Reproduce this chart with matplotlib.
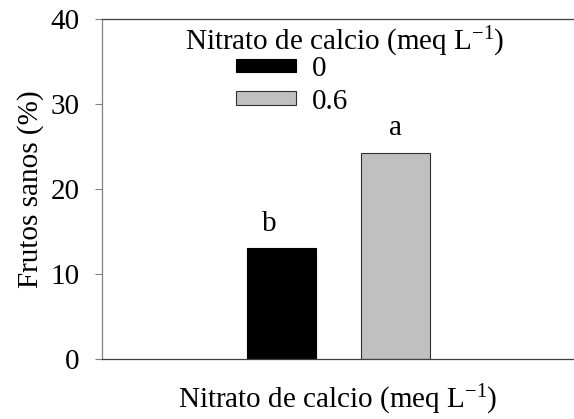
import matplotlib
matplotlib.use("Agg")
import matplotlib.pyplot as plt

plt.rcParams['font.family'] = ['Liberation Serif', 'DejaVu Serif']
plt.rcParams['mathtext.fontset'] = 'custom'
plt.rcParams['mathtext.rm'] = 'Liberation Serif'
plt.rcParams['mathtext.it'] = 'Liberation Serif:italic'

# datos
grupos = ['0', '0.6']
frutos_sanos = [13.0, 24.2]
letras = ['b', 'a']
colores = ['black', '#c0c0c0']
yticks = [0, 10, 20, 30, 40]

titulo = 'Nitrato de calcio (meq L$^{\\mathregular{-1}}$)'
fs = 21

fig = plt.figure(figsize=(5.74, 4.19), dpi=100)
ax = fig.add_axes([102 / 574, 60 / 419, 472 / 574, 340 / 419])

pos = list(range(len(grupos)))
barras = ax.bar(pos, frutos_sanos, width=0.605, color=colores,
                edgecolor=['black', '#303030'], linewidth=0.8)

for i, (v, l) in enumerate(zip(frutos_sanos, letras)):
    dx = -0.11 if i == 0 else 0
    ax.text(i + dx, v + 1.4, l, ha='center', va='bottom', fontsize=fs)

ax.set_xlim(-1.575, 2.566)
ax.set_ylim(0, 40)
ax.set_yticks(yticks)
ax.set_xticks([])
ax.tick_params(axis='y', direction='out', length=5, width=0.8, color='#808080',
               labelsize=fs, pad=11)

ax.spines['right'].set_visible(False)
ax.spines['left'].set_color('#808080')
ax.spines['top'].set_color('#404040')
ax.spines['bottom'].set_color('#404040')
for s in ax.spines.values():
    s.set_linewidth(0.9)

ax.set_ylabel('Frutos sanos (%)', fontsize=fs, labelpad=5)
ax.set_xlabel(titulo, fontsize=fs, labelpad=17)

# leyenda: titulo aparte, entradas desplazadas a la izquierda
ax.text(0.515, 0.932, titulo, transform=ax.transAxes, ha='center', va='center',
        fontsize=fs)
ax.legend(barras, grupos, frameon=False, fontsize=fs, loc='center left',
          bbox_to_anchor=(0.284, 0.805), borderpad=0, borderaxespad=0,
          handlelength=2.05, handleheight=0.34, labelspacing=0.22,
          handletextpad=0.55)

fig.savefig('out.png', dpi=100)
